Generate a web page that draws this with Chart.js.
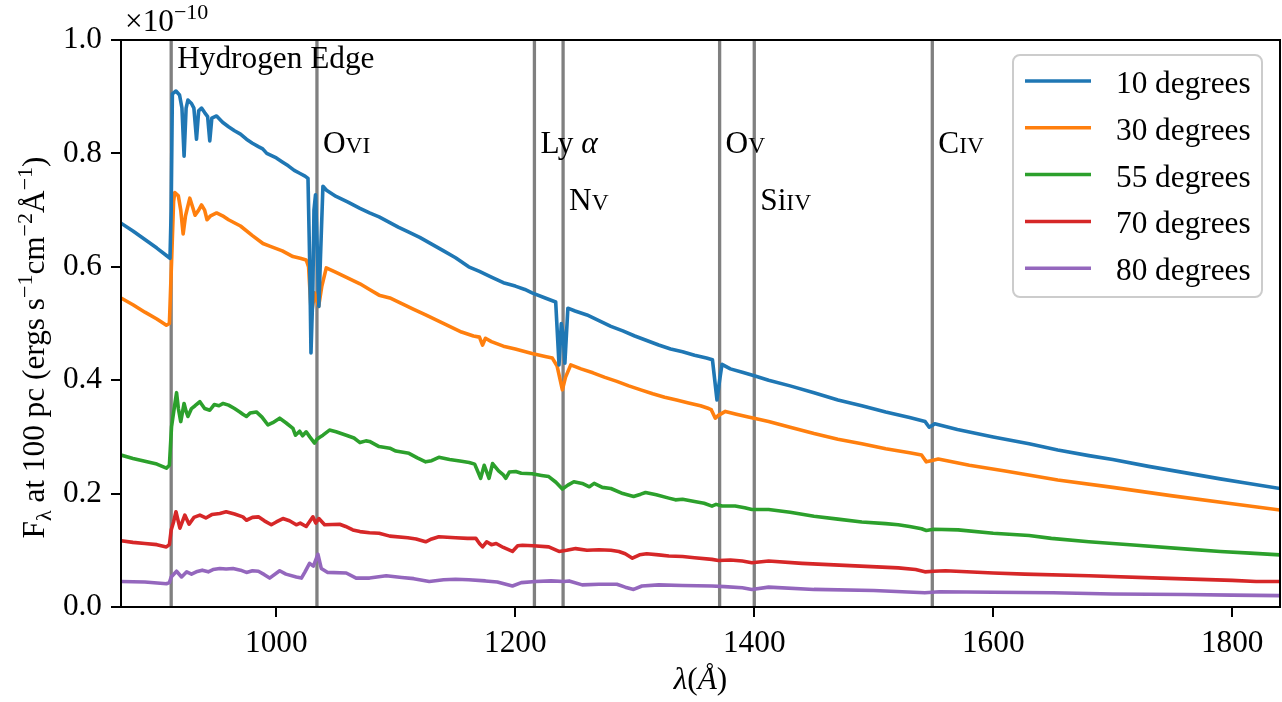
<!DOCTYPE html>
<html><head><meta charset="utf-8">
<script src="https://cdn.jsdelivr.net/npm/chart.js@4.4.1/dist/chart.umd.min.js"></script>
<style>html,body{margin:0;padding:0;background:#fff;overflow:hidden}#wrap{width:1282px;height:702px}</style>
</head><body><div id="wrap"><canvas id="c" width="1282" height="702"></canvas></div>
<script>
// ---------- data (flux in units of 1e-10 ergs s^-1 cm^-2 A^-1) ----------
const seriesLabels = ['10 degrees','30 degrees','55 degrees','70 degrees','80 degrees'];
const seriesColors = ['#1f77b4','#ff7f0e','#2ca02c','#d62728','#9467bd'];

const wl10 = [870,880,890,900,908,911,912,913,916,919,921,922.8,924.5,926,929,931,933.2,935,937.4,940,942.5,944.3,946,950,955,960,965,970,975,980,985,988.6,992,1000,1005,1010,1015,1019.5,1024,1026.5,1028,1029,1030.5,1031.5,1032.8,1034,1035.6,1037,1039,1042,1050,1060,1070,1078,1086,1095,1102,1110,1120,1130,1140,1150,1161,1170,1180,1190,1200,1208,1214,1225,1233.8,1236.6,1238.5,1240,1241.5,1244,1250,1260,1270,1280,1290,1300,1310,1320,1330,1340,1350,1360,1365,1368.8,1371,1373,1380,1390,1400,1412,1430,1450,1470,1490,1510,1530,1543,1546.4,1551,1570,1600,1630,1654,1680,1700,1730,1760,1790,1810,1840];
const flux10 = [0.677,0.663,0.648,0.633,0.620,0.615,0.700,0.905,0.910,0.903,0.880,0.795,0.880,0.894,0.888,0.880,0.825,0.875,0.880,0.872,0.865,0.822,0.862,0.866,0.855,0.847,0.840,0.834,0.825,0.818,0.812,0.808,0.800,0.792,0.785,0.778,0.770,0.765,0.760,0.756,0.600,0.448,0.550,0.700,0.727,0.650,0.530,0.620,0.742,0.735,0.724,0.714,0.703,0.695,0.688,0.678,0.670,0.662,0.652,0.640,0.628,0.616,0.600,0.592,0.582,0.572,0.566,0.560,0.554,0.545,0.538,0.427,0.500,0.483,0.430,0.527,0.522,0.515,0.505,0.495,0.487,0.478,0.470,0.462,0.455,0.450,0.444,0.439,0.436,0.365,0.400,0.428,0.420,0.414,0.408,0.400,0.390,0.378,0.365,0.355,0.344,0.334,0.327,0.317,0.323,0.313,0.300,0.288,0.277,0.267,0.260,0.248,0.237,0.226,0.219,0.209];

const wl30 = [870,880,890,900,908,910.5,912.5,914,915,918,920,922,924,927.6,930,932,935,937.4,940,942,945,950,955,960,970,980,988.8,995,1000,1005,1013.9,1020,1025,1027,1029.3,1032,1035.4,1038,1041.8,1050,1060,1070,1078,1086,1095,1105,1115,1125,1135,1145,1155,1165,1170,1172.6,1175,1180,1190,1200,1214,1225,1231,1235,1239.4,1242,1246.4,1255,1265,1275,1285,1295,1305,1315,1325,1335,1345,1355,1361.9,1364,1367.4,1370,1375.8,1385,1395,1403.6,1412,1430,1450,1470,1490,1510,1530,1540,1544,1548,1554,1580,1610,1654,1700,1750,1800,1840];
const flux30 = [0.545,0.533,0.520,0.508,0.497,0.500,0.620,0.715,0.731,0.725,0.700,0.658,0.690,0.721,0.705,0.691,0.700,0.709,0.700,0.683,0.690,0.695,0.690,0.683,0.672,0.655,0.641,0.636,0.632,0.628,0.618,0.615,0.612,0.600,0.515,0.554,0.530,0.565,0.598,0.590,0.580,0.570,0.560,0.550,0.545,0.535,0.525,0.515,0.505,0.495,0.485,0.478,0.476,0.462,0.474,0.468,0.460,0.455,0.447,0.442,0.439,0.425,0.383,0.405,0.427,0.420,0.413,0.405,0.398,0.390,0.383,0.376,0.370,0.365,0.360,0.355,0.350,0.348,0.333,0.338,0.345,0.340,0.335,0.331,0.327,0.317,0.306,0.296,0.288,0.279,0.272,0.268,0.256,0.258,0.261,0.250,0.240,0.224,0.211,0.196,0.182,0.171];

const wl55 = [870,880,890,900,908,910.5,912.3,914.5,916.5,918,920,922.8,924.5,926,929,932,936,940,944.3,948,952,955.5,960,965,969.4,972,975,978,983.3,988,993,997,1002.8,1008,1013.9,1016,1019.5,1022,1025,1028,1032,1034,1036,1039,1044.5,1050,1058.5,1065,1070,1075,1078,1086,1095,1100,1111,1118,1125,1130,1136,1145,1155,1161.4,1166,1171,1174,1178,1181,1186,1190,1192,1195,1200.4,1205,1214,1222,1228,1234,1239.4,1244,1249,1256,1262,1266,1272.8,1280,1290,1299,1305,1309,1318,1328.5,1334,1340,1350,1358,1364.6,1368,1373,1384,1392,1398,1412,1430,1450,1470,1490,1510,1520.5,1530,1540,1544,1550,1570.6,1600,1630,1648.6,1680,1720,1762.7,1790,1815,1840];
const flux55 = [0.268,0.262,0.257,0.252,0.245,0.250,0.318,0.350,0.378,0.350,0.327,0.359,0.345,0.336,0.350,0.355,0.362,0.350,0.347,0.357,0.355,0.359,0.356,0.350,0.344,0.340,0.336,0.342,0.344,0.335,0.321,0.325,0.333,0.325,0.315,0.303,0.310,0.302,0.309,0.300,0.289,0.296,0.299,0.303,0.312,0.309,0.303,0.298,0.290,0.293,0.292,0.283,0.280,0.275,0.271,0.263,0.256,0.258,0.264,0.260,0.257,0.255,0.252,0.227,0.250,0.227,0.253,0.240,0.233,0.227,0.238,0.239,0.236,0.235,0.232,0.230,0.220,0.208,0.215,0.221,0.218,0.212,0.218,0.211,0.209,0.200,0.195,0.199,0.202,0.198,0.192,0.189,0.190,0.186,0.183,0.178,0.181,0.178,0.178,0.175,0.172,0.172,0.167,0.160,0.155,0.150,0.147,0.145,0.142,0.138,0.135,0.137,0.136,0.130,0.126,0.121,0.115,0.109,0.102,0.098,0.095,0.092];

const wl70 = [870,880,890,900,908,910.5,912,914,916,919.3,923.4,927,931,936,941,946,952.7,958,965,972,975,980,985,990,995.8,1000,1005.5,1011,1016.7,1020,1025,1030.6,1033,1035.6,1040.4,1053,1058,1064,1070,1078,1086,1095,1110,1117,1125,1130,1136,1150,1160,1167,1170,1172.6,1176,1180,1184,1190,1197.6,1202,1206,1215,1228,1236.6,1243,1250.5,1260,1270,1280,1286.7,1292,1298,1304,1310,1320,1328.5,1340,1350,1364.6,1370,1380,1390,1398,1412,1440,1480,1520.5,1535,1542.8,1550,1560,1600,1626.3,1680,1740,1800,1820,1840];
const flux70 = [0.117,0.114,0.112,0.110,0.106,0.110,0.136,0.150,0.168,0.139,0.162,0.146,0.158,0.162,0.157,0.163,0.165,0.168,0.164,0.159,0.153,0.158,0.159,0.152,0.145,0.150,0.156,0.152,0.145,0.148,0.142,0.159,0.148,0.156,0.145,0.146,0.142,0.136,0.133,0.131,0.130,0.125,0.122,0.120,0.115,0.120,0.124,0.122,0.121,0.121,0.112,0.106,0.115,0.110,0.112,0.105,0.098,0.108,0.109,0.108,0.106,0.098,0.100,0.103,0.100,0.101,0.100,0.098,0.094,0.086,0.092,0.094,0.092,0.090,0.089,0.087,0.084,0.082,0.083,0.081,0.078,0.081,0.077,0.073,0.069,0.066,0.062,0.063,0.064,0.060,0.058,0.055,0.051,0.047,0.045,0.045];

const wl80 = [870,890,908,910.5,912,916.5,920.7,925,929,933,938,943,947,952.7,958,963.8,970,975,980,985,990,994.4,1002.8,1008,1016.7,1021,1024,1027.8,1031,1034.8,1037.6,1043,1058.5,1066.8,1078,1092,1105,1115,1128,1140,1150,1161,1175,1185,1197.6,1205,1217,1230,1240.8,1245,1256,1270,1285,1292,1299,1306,1320,1340,1364.6,1375,1390,1398,1412,1450,1500,1542.8,1555,1600,1650,1700,1760,1800,1840];
const flux80 = [0.045,0.044,0.041,0.043,0.053,0.063,0.053,0.062,0.058,0.062,0.065,0.062,0.066,0.068,0.067,0.068,0.065,0.061,0.064,0.063,0.057,0.051,0.064,0.058,0.053,0.051,0.062,0.077,0.072,0.093,0.068,0.061,0.060,0.051,0.051,0.055,0.052,0.050,0.045,0.048,0.049,0.048,0.046,0.044,0.037,0.043,0.045,0.046,0.045,0.046,0.039,0.040,0.040,0.035,0.031,0.037,0.039,0.038,0.037,0.036,0.034,0.031,0.035,0.031,0.029,0.025,0.027,0.026,0.025,0.023,0.022,0.021,0.020];

const xTicks = [1000,1200,1400,1600,1800];
const yTicks = [0.0,0.2,0.4,0.6,0.8,1.0];

// spectral line markers: wavelength, label y (flux units), main text, small-caps part
const lineWl    = [912, 1034, 1216, 1240, 1371, 1400, 1549];
const lineLabY  = [0.95, 0.80, 0.80, 0.70, 0.80, 0.70, 0.80];
const lineMain  = ['Hydrogen Edge', 'O', 'Ly ', 'N', 'O', 'Si', 'C'];
const lineSmall = ['', 'VI', '', 'V', 'V', 'IV', 'IV'];
const lineGreek = ['', '', 'α', '', '', '', ''];

// ---------- rendering ----------
const FONT = '"Liberation Serif","Times New Roman",serif';
const FS = 31.3;

const wlSets = [wl10, wl30, wl55, wl70, wl80];
const fluxSets = [flux10, flux30, flux55, flux70, flux80];

function drawParts(ctx, parts, x, y) {
  let cx = x;
  for (const p of parts) {
    ctx.font = (p.it ? 'italic ' : '') + p.size + 'px ' + FONT;
    ctx.fillText(p.t, cx, y + (p.dy || 0));
    cx += ctx.measureText(p.t).width;
  }
  return cx - x;
}
function measureParts(ctx, parts) {
  let w = 0;
  for (const p of parts) { ctx.font = (p.it ? 'italic ' : '') + p.size + 'px ' + FONT; w += ctx.measureText(p.t).width; }
  return w;
}

const decor = {
  id: 'decor',
  beforeDatasetsDraw(chart) {
    const {ctx, chartArea: a, scales: {x}} = chart;
    ctx.save();
    ctx.beginPath(); ctx.rect(a.left, a.top, a.right - a.left, a.bottom - a.top); ctx.clip();
    ctx.strokeStyle = '#808080'; ctx.lineWidth = 3.3;
    for (const w of lineWl) {
      const px = x.getPixelForValue(w);
      ctx.beginPath(); ctx.moveTo(px, a.top); ctx.lineTo(px, a.bottom); ctx.stroke();
    }
    ctx.restore();
  },
  afterDatasetsDraw(chart) {
    const {ctx, chartArea: a, scales: {x, y}} = chart;
    ctx.save();
    ctx.strokeStyle = '#000'; ctx.lineWidth = 2;
    ctx.strokeRect(a.left, a.top, a.right - a.left, a.bottom - a.top);
    ctx.fillStyle = '#000'; ctx.textBaseline = 'alphabetic'; ctx.textAlign = 'left';
    for (let i = 0; i < lineWl.length; i++) {
      const px = x.getPixelForValue(lineWl[i]) + 6;
      const py = y.getPixelForValue(lineLabY[i]);
      const parts = [{t: lineMain[i], size: FS}];
      if (lineGreek[i]) parts.push({t: lineGreek[i], size: FS, it: true});
      if (lineSmall[i]) parts.push({t: lineSmall[i], size: 23.5});
      drawParts(ctx, parts, px, py);
    }
    drawParts(ctx, [{t: '×10', size: FS}, {t: '−10', size: 22, dy: -12}], 125, 31);
    const yl = [{t: 'F', size: FS}, {t: 'λ', size: 22, dy: 7}, {t: ' at 100 pc (ergs s', size: FS},
      {t: '−1', size: 22, dy: -12}, {t: 'cm', size: FS}, {t: '−2', size: 22, dy: -12},
      {t: 'Å', size: FS}, {t: '−1', size: 22, dy: -12}, {t: ')', size: FS}];
    const wy = measureParts(ctx, yl);
    ctx.save();
    ctx.translate(44, (a.top + a.bottom) / 2 + 24);
    ctx.rotate(-Math.PI / 2);
    drawParts(ctx, yl, -wy / 2, 0);
    ctx.restore();
    const xl = [{t: 'λ', size: FS, it: true}, {t: '(', size: FS}, {t: 'Å', size: FS, it: true}, {t: ')', size: FS}];
    const wx = measureParts(ctx, xl);
    drawParts(ctx, xl, (a.left + a.right) / 2 - wx / 2, 689);
    const lx = 1013, ly = 55, lw = 249, lh = 242, r = 7;
    ctx.beginPath();
    ctx.moveTo(lx + r, ly); ctx.lineTo(lx + lw - r, ly); ctx.arcTo(lx + lw, ly, lx + lw, ly + r, r);
    ctx.lineTo(lx + lw, ly + lh - r); ctx.arcTo(lx + lw, ly + lh, lx + lw - r, ly + lh, r);
    ctx.lineTo(lx + r, ly + lh); ctx.arcTo(lx, ly + lh, lx, ly + lh - r, r);
    ctx.lineTo(lx, ly + r); ctx.arcTo(lx, ly, lx + r, ly, r); ctx.closePath();
    ctx.fillStyle = 'rgba(255,255,255,0.8)'; ctx.fill();
    ctx.strokeStyle = '#cccccc'; ctx.lineWidth = 2; ctx.stroke();
    chart.data.datasets.forEach((ds, i) => {
      const ry = 81 + i * 46.8;
      ctx.strokeStyle = ds.borderColor; ctx.lineWidth = 3.5; ctx.lineCap = 'butt';
      ctx.beginPath(); ctx.moveTo(1025, ry); ctx.lineTo(1091, ry); ctx.stroke();
      ctx.fillStyle = '#000';
      drawParts(ctx, [{t: ds.label, size: FS}], 1116, ry + 12);
    });
    ctx.restore();
  }
};

const datasets = seriesLabels.map((lab, i) => ({
  label: lab,
  data: wlSets[i].map((w, j) => ({x: w, y: fluxSets[i][j]})),
  borderColor: seriesColors[i],
  backgroundColor: seriesColors[i],
  borderWidth: 3.6,
  pointRadius: 0,
  tension: 0,
  fill: false,
  borderJoinStyle: 'round'
}));

new Chart(document.getElementById('c'), {
  type: 'line',
  data: {datasets},
  options: {
    responsive: false,
    animation: false,
    devicePixelRatio: 1,
    layout: {padding: {top: 40, right: 2, left: 0, bottom: 0}},
    plugins: {legend: {display: false}, tooltip: {enabled: false}},
    scales: {
      x: {
        type: 'linear', min: 870, max: 1840,
        afterBuildTicks: s => { s.ticks = xTicks.map(v => ({value: v})); },
        afterFit: s => { s.height = 95; },
        grid: {display: true, drawOnChartArea: false, drawTicks: true, tickLength: 10, color: '#000', lineWidth: 2},
        border: {display: false},
        ticks: {font: {family: FONT, size: FS}, color: '#000', padding: 8, maxRotation: 0, callback: v => String(v)}
      },
      y: {
        type: 'linear', min: 0, max: 1.0,
        afterBuildTicks: s => { s.ticks = yTicks.map(v => ({value: v})); },
        afterFit: s => { s.width = 121; },
        grid: {display: true, drawOnChartArea: false, drawTicks: true, tickLength: 10, color: '#000', lineWidth: 2},
        border: {display: false},
        ticks: {font: {family: FONT, size: FS}, color: '#000', padding: 9, callback: v => v.toFixed(1)}
      }
    }
  },
  plugins: [decor]
});
</script></body></html>
